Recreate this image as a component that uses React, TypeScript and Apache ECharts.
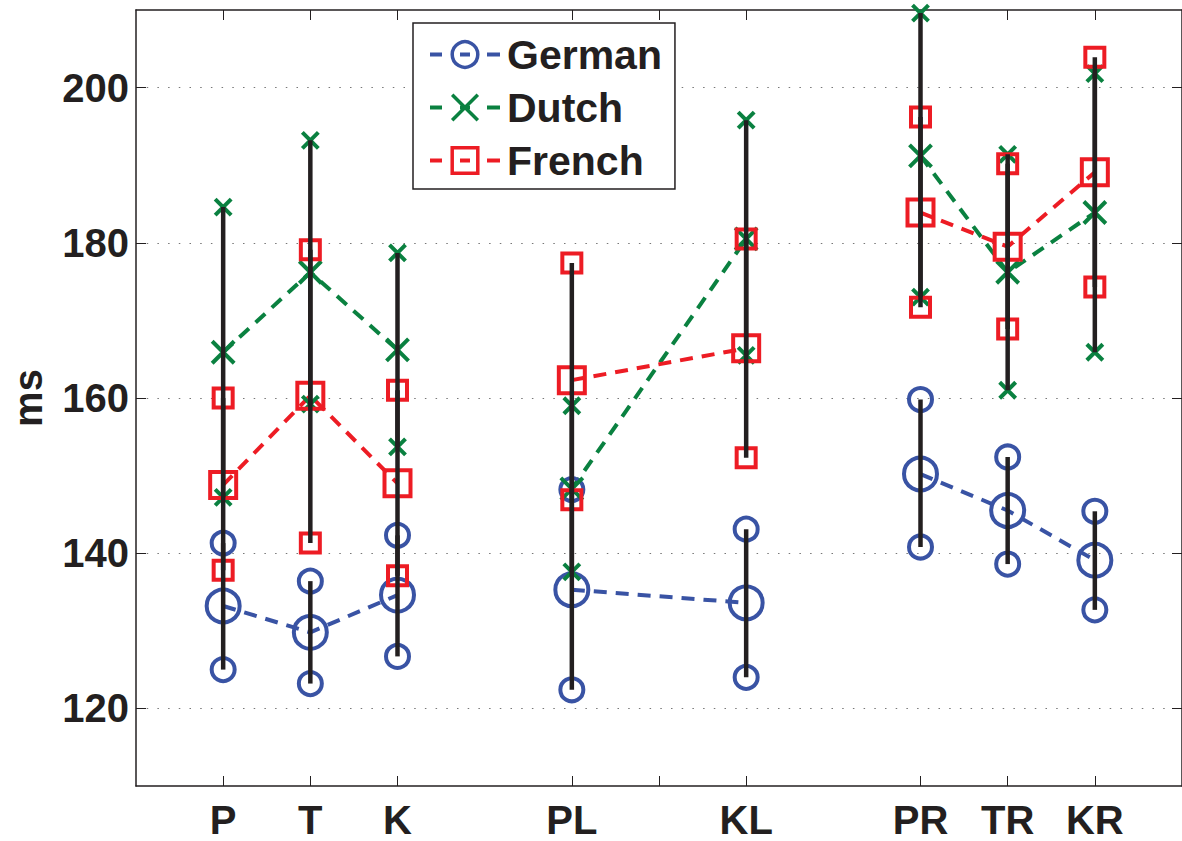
import React, { useEffect, useRef } from 'react';
import * as echarts from 'echarts';

// ---- data ----
const categories = ['P', 'T', 'K', 'PL', 'KL', 'PR', 'TR', 'KR'];
const positions = [1, 2, 3, 5, 7, 9, 10, 11];
const groups = [0, 0, 0, 1, 1, 2, 2, 2];
const xTickPositions = [1, 2, 3, 5, 6, 7, 9, 10, 11];
const yTicks = [120, 140, 160, 180, 200];

const germanMean = [133.2, 129.8, 134.6, 135.3, 133.6, 150.2, 145.5, 139.1];
const germanLow = [125.0, 123.2, 126.7, 122.4, 124.0, 140.8, 138.6, 132.7];
const germanHigh = [141.3, 136.4, 142.3, 148.2, 143.1, 159.8, 152.4, 145.4];

const dutchMean = [165.9, 176.2, 166.2, 148.3, 180.5, 191.2, 176.2, 183.9];
const dutchLow = [147.2, 159.2, 153.7, 137.6, 165.5, 173.0, 161.0, 165.9];
const dutchHigh = [184.6, 193.2, 178.7, 159.0, 195.8, 209.6, 191.4, 201.8];

const frenchMean = [148.8, 160.3, 149.0, 162.3, 166.4, 183.9, 179.5, 189.1];
const frenchLow = [137.8, 141.3, 137.1, 146.9, 152.3, 171.7, 168.9, 174.3];
const frenchHigh = [160.0, 179.1, 161.0, 177.4, 180.5, 196.2, 190.2, 203.9];

// ---- styles ----
const BLUE = '#3953a4';
const GREEN = '#0a8140';
const RED = '#ed1c24';
const INK = '#231f20';
const FONT = '"Liberation Sans", Arial, Helvetica, sans-serif';
const X_PATH = 'path://M0,0L10,10M10,0L0,10';

const langs = [
  { name: 'German', color: BLUE, symbol: 'circle', big: 33, small: 23, mean: germanMean, low: germanLow, high: germanHigh },
  { name: 'Dutch', color: GREEN, symbol: X_PATH, big: 22, small: 16, mean: dutchMean, low: dutchLow, high: dutchHigh },
  { name: 'French', color: RED, symbol: 'rect', big: 26, small: 19, mean: frenchMean, low: frenchLow, high: frenchHigh },
];

function buildOption() {
  const series: any[] = [];
  langs.forEach((l) => {
    const lineData: any[] = [];
    positions.forEach((p, i) => {
      lineData.push([p, l.mean[i]]);
      if (i < positions.length - 1 && groups[i + 1] !== groups[i]) {
        lineData.push([p + 0.5, '-']);
      }
    });
    const itemStyle = { color: 'rgba(0,0,0,0)', borderColor: l.color, borderWidth: 4, opacity: 1 };
    series.push({
      type: 'line',
      name: l.name,
      data: lineData,
      symbol: l.symbol,
      symbolSize: l.big,
      showSymbol: false,
      connectNulls: false,
      itemStyle,
      lineStyle: { color: l.color, width: 4, type: [13, 9] },
      z: 2,
      silent: true,
      emphasis: { disabled: true },
    });
    series.push({
      type: 'scatter',
      name: l.name + ' mean',
      data: positions.map((p, i) => [p, l.mean[i]]),
      symbol: l.symbol,
      symbolSize: l.big,
      itemStyle,
      z: 2,
      silent: true,
      emphasis: { disabled: true },
    });
    const sd: any[] = [];
    positions.forEach((p, i) => {
      sd.push([p, l.low[i]]);
      sd.push([p, l.high[i]]);
    });
    series.push({
      type: 'scatter',
      name: l.name + ' sd',
      data: sd,
      symbol: l.symbol,
      symbolSize: l.small,
      itemStyle,
      z: 2,
      silent: true,
      emphasis: { disabled: true },
    });
  });
  langs.forEach((l) => {
    series.push({
      type: 'custom',
      name: l.name + ' err',
      data: positions.map((p, i) => [p, l.low[i], l.high[i]]),
      encode: { x: 0, y: [1, 2] },
      z: 3,
      silent: true,
      renderItem: (params: any, api: any) => {
        const x = api.value(0);
        const a = api.coord([x, api.value(1)]);
        const b = api.coord([x, api.value(2)]);
        return {
          type: 'line',
          shape: { x1: a[0], y1: a[1], x2: b[0], y2: b[1] },
          style: { stroke: INK, lineWidth: 4.5 },
        };
      },
    });
  });

  const axisText = { fontSize: 40, fontWeight: 'bold', fontFamily: FONT, color: INK };
  const axisLine = { show: true, onZero: false, lineStyle: { color: INK, width: 1.5 } };

  return {
    animation: false,
    grid: { left: 134, right: 0, top: 10, bottom: 55, containLabel: false },
    legend: {
      data: langs.map((l) => l.name),
      orient: 'vertical',
      left: 413,
      top: 23,
      padding: [11, 13, 8, 15],
      itemWidth: 70,
      itemHeight: 32,
      itemGap: 12,
      backgroundColor: '#fff',
      borderColor: INK,
      borderWidth: 1.5,
      borderRadius: 0,
      selectedMode: false,
      itemStyle: { borderWidth: 3.5 },
      lineStyle: { width: 4, type: [12, 18, 10, 17, 13] },
      textStyle: { ...axisText, fontSize: 41, padding: [0, 0, 0, 2] },
    },
    xAxis: [
      {
        type: 'value',
        min: 0,
        max: 12,
        position: 'bottom',
        axisLine,
        axisTick: { show: true, inside: true, length: 10, customValues: xTickPositions, lineStyle: { color: INK, width: 1 } },
        axisLabel: {
          ...axisText,
          margin: 14,
          customValues: positions,
          formatter: (v: number) => {
            const i = positions.indexOf(v);
            return i >= 0 ? categories[i] : '';
          },
        },
        splitLine: { show: false },
      },
      {
        type: 'value',
        min: 0,
        max: 12,
        position: 'top',
        axisLine,
        axisTick: { show: true, inside: true, length: 10, customValues: xTickPositions, lineStyle: { color: INK, width: 1 } },
        axisLabel: { show: false },
        splitLine: { show: false },
      },
    ],
    yAxis: [
      {
        type: 'value',
        min: 110,
        max: 210,
        position: 'left',
        name: 'ms',
        nameLocation: 'middle',
        nameGap: 88,
        nameRotate: 90,
        nameTextStyle: axisText,
        axisLine,
        axisTick: { show: true, inside: true, length: 10, customValues: yTicks, lineStyle: { color: INK, width: 1 } },
        axisLabel: { ...axisText, margin: 7, customValues: yTicks },
        splitLine: { show: true, lineStyle: { color: '#777', width: 1.2, type: [1.5, 9.2] } },
      },
      {
        type: 'value',
        min: 110,
        max: 210,
        position: 'right',
        axisLine,
        axisTick: { show: true, inside: true, length: 10, customValues: yTicks, lineStyle: { color: INK, width: 1 } },
        axisLabel: { show: false },
        splitLine: { show: false },
      },
    ],
    series,
  };
}

export default function App() {
  const ref = useRef<HTMLDivElement>(null);
  useEffect(() => {
    if (!ref.current) return;
    const chart = echarts.init(ref.current, undefined, { renderer: 'svg' });
    chart.setOption(buildOption() as any);
    return () => chart.dispose();
  }, []);
  return (
    <div
      ref={ref}
      style={{ position: 'fixed', left: 0, top: 0, width: 1182, height: 841, background: '#fff' }}
    />
  );
}
